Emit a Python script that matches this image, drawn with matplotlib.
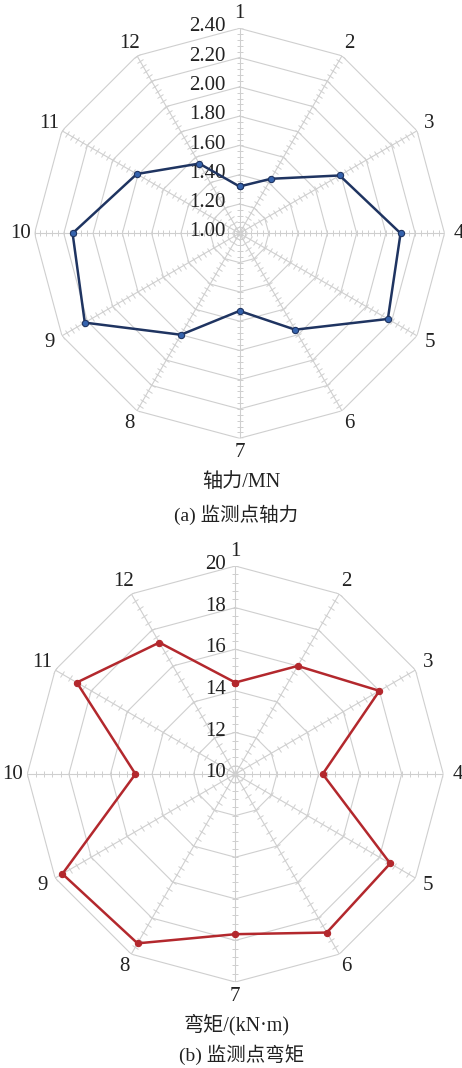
import numpy as np
import matplotlib
matplotlib.use('Agg')
import matplotlib.pyplot as plt
from matplotlib.markers import MarkerStyle
from matplotlib.transforms import Affine2D

plt.rcParams['font.family'] = ['Liberation Serif', 'Noto Sans CJK SC', 'DejaVu Sans']

# monitoring points
points = [str(i) for i in range(1, 13)]

# (a) axial force, MN
axial = [1.32, 1.43, 1.79, 2.10, 2.17, 1.76, 1.53, 1.80, 2.22, 2.14, 1.81, 1.55]
axial_ticks = [1.00, 1.20, 1.40, 1.60, 1.80, 2.00, 2.20, 2.40]

# (b) bending moment, kN·m
moment = [14.4, 16.0, 18.0, 14.2, 18.6, 18.8, 17.7, 19.4, 19.6, 14.8, 18.8, 17.3]
moment_ticks = [10, 12, 14, 16, 18, 20]

GRID = '#cfcfcf'
TXT = '#222222'


def radar(ax, values, ticks, minor_step, color, mfc, fmt, lab_off):
    n = len(points)
    theta = np.arange(n) * 2 * np.pi / n
    rmin, rmax = ticks[0], ticks[-1]
    ax.set_theta_zero_location('N')
    ax.set_theta_direction(-1)
    ax.set_rlim(rmin, rmax)
    ax.set_xticks([])
    ax.set_yticks([])
    ax.grid(False)
    ax.spines['polar'].set_visible(False)
    ax.patch.set_visible(False)

    tclosed = np.append(theta, theta[0])
    # polygon rings
    for r in ticks[1:]:
        ax.plot(tclosed, [r] * (n + 1), color=GRID, lw=0.8, zorder=1)
    # spokes + minor ticks
    minor = np.arange(rmin, rmax + minor_step / 2, minor_step)
    for k, t in enumerate(theta):
        ax.plot([t, t], [rmin, rmax], color=GRID, lw=0.8, zorder=1)
        ms = MarkerStyle('_', transform=Affine2D().rotate_deg(-30 * k))
        ax.plot([t] * len(minor), minor, ls='none', marker=ms, ms=5,
                mec=GRID, mew=0.7, zorder=1)

    # radial labels
    for r in ticks:
        ax.annotate(fmt.format(r), xy=(0, r), xytext=(lab_off, 1),
                    textcoords='offset points', ha='right', va='center',
                    fontsize=15, color=TXT, zorder=2)
    # category labels
    rl = rmin + (rmax - rmin) * 1.07
    for t, p in zip(theta, points):
        ax.text(t, rl, p, ha='center', va='center', fontsize=15, color=TXT)

    vals = list(values) + [values[0]]
    ax.plot(tclosed, vals, color=color, lw=1.8, marker='o', ms=4.5,
            mfc=mfc, mec=color, mew=0.8, zorder=3)


fig = plt.figure(figsize=(4.62, 10.68), dpi=100)

ax1 = fig.add_axes([0.0747, 0.5896, 0.8874, 0.3839], projection='polar')
radar(ax1, axial, axial_ticks, 0.04, '#1f3461', '#3563ad', '{:.2f}', -10)

ax2 = fig.add_axes([0.0591, 0.0805, 0.9004, 0.3895], projection='polar')
radar(ax2, moment, moment_ticks, 0.4, '#b3282d', '#b3282d', '{:d}', -7)

fig.text(0.522, 0.5478, '轴力/MN', ha='center', va='center', fontsize=14.5, color=TXT)
fig.text(0.512, 0.5178, '(a) 监测点轴力', ha='center', va='center', fontsize=14, color=TXT)
fig.text(0.513, 0.0403, '弯矩/(kN·m)', ha='center', va='center', fontsize=14.5, color=TXT)
fig.text(0.522, 0.0122, '(b) 监测点弯矩', ha='center', va='center', fontsize=14, color=TXT)

fig.savefig('out.png', dpi=100, facecolor='white')
plt.close(fig)
